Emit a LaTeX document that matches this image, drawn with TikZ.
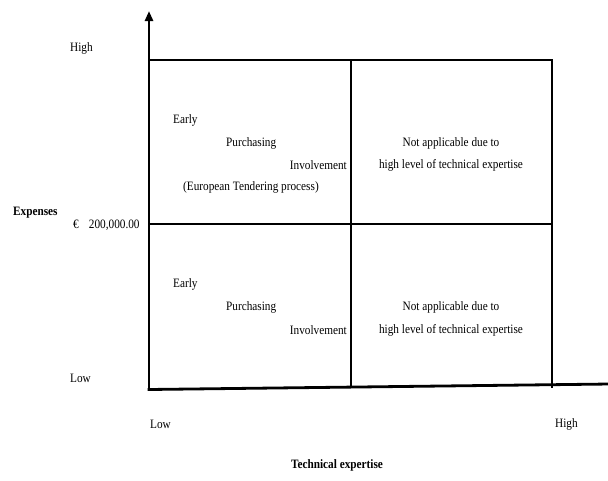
\documentclass[tikz,border=0pt]{standalone}
\usepackage{fontspec}
\setmainfont{Liberation Serif}
\usetikzlibrary{arrows.meta}
\begin{document}
\begin{tikzpicture}[x=1pt,y=-1pt,
  lbl/.style={font=\fontsize{12.8}{14}\selectfont, inner sep=0pt, xscale=0.88},
  blbl/.style={font=\fontsize{12.8}{14}\selectfont\bfseries, inner sep=0pt, xscale=0.88},
  grid/.style={line width=1.1pt},
  axis/.style={line width=2.8pt}]
\useasboundingbox (0,0) rectangle (608,480);
% grid
\coordinate (tl) at (149,60);
\coordinate (tr) at (552,60);
\coordinate (ml) at (149,224);
\coordinate (mr) at (552,224);
\coordinate (bl) at (149,388);
\coordinate (br) at (552,388);
\coordinate (tm) at (351,60);
\coordinate (bm) at (351,388);
\draw[grid] (tl) -- (tr) -- (br);
\draw[grid] (ml) -- (mr);
\draw[grid] (tm) -- (bm);
% axes
\coordinate (ytip) at (149,11);
\coordinate (xend) at (610,384);
\coordinate (origin) at (149,389.5);
\draw[axis, -{Triangle[length=10pt,width=8pt]}] (origin) -- (ytip);
\draw[axis, line cap=rect] (origin) -- (xend);
% axis labels
\node[lbl, anchor=west] (yhigh) at (70,48) {High};
\node[blbl, anchor=west] (ytitle) at (13,213) {Expenses};
\node[lbl, anchor=west] (ymid) at (73,225) {€\hspace{0.9em}200,000.00};
\node[lbl, anchor=west] (ylow) at (70,378) {Low};
\node[lbl, anchor=west] (xlow) at (150,424) {Low};
\node[lbl, anchor=west] (xhigh) at (555,424) {High};
\node[blbl] (xtitle) at (337,465) {Technical expertise};
% top-left quadrant
\node[lbl, anchor=west] (e1) at (173,120) {Early};
\node[lbl, anchor=west] (p1) at (226,143) {Purchasing};
\node[lbl, anchor=east] (i1) at (347,165) {Involvement};
\node[lbl, anchor=west] (t1) at (183,187) {(European Tendering process)};
% top-right quadrant
\node[lbl] (n1) at (451,143) {Not applicable due to};
\node[lbl] (h1) at (451,165) {high level of technical expertise};
% bottom-left quadrant
\node[lbl, anchor=west] (e2) at (173,284) {Early};
\node[lbl, anchor=west] (p2) at (226,307) {Purchasing};
\node[lbl, anchor=east] (i2) at (347,330) {Involvement};
% bottom-right quadrant
\node[lbl] (n2) at (451,307) {Not applicable due to};
\node[lbl] (h2) at (451,330) {high level of technical expertise};
\end{tikzpicture}
\end{document}
